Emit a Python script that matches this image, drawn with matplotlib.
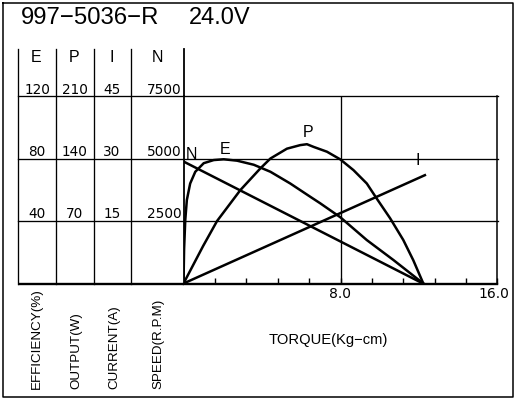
import numpy as np
import matplotlib
matplotlib.use("Agg")
import matplotlib.pyplot as plt
from matplotlib.transforms import blended_transform_factory, ScaledTranslation

# ---------------- data ----------------
title_model = "997\u22125036\u2212R"
title_volt = "24.0V"

# efficiency curve (torque kg-cm, %)
torque_E = [0, 0.03, 0.09, 0.17, 0.34, 0.6, 1.03, 1.54, 2.05, 2.73, 3.58, 4.43,
            5.44, 6.46, 6.97, 7.99, 9.34, 10.7, 12.22]
eff = [0, 22, 40.6, 53.4, 64, 71.5, 77, 79, 79.5, 78.6, 76, 71.5,
       64, 55.5, 51.3, 42.4, 27.8, 15, 0]

# output power curve (torque kg-cm, W)
torque_P = [0, 1.0, 1.71, 2.9, 3.92, 4.43, 5.27, 5.95, 6.29, 6.63, 7.31, 7.99,
            8.66, 9.34, 9.85, 10.53, 11.2, 11.71, 12.22]
power = [0, 42, 70, 104.7, 129, 140, 151, 155, 156, 153, 147.6, 139,
         127, 112, 95, 73, 48.7, 26, 0]

# speed line (torque, rpm)
torque_N = [0, 12.2]
speed = [4880, 0]

# current line (torque, A)
torque_I = [0, 12.3]
current = [0, 26.0]

# scales: one grid unit per column step
E_ticks = [40, 80, 120]
P_ticks = [70, 140, 210]
I_ticks = [15, 30, 45]
N_ticks = [2500, 5000, 7500]
E_step, P_step, I_step, N_step = 40, 70, 15, 2500

x_ticks = [1.6, 3.2, 4.8, 6.4, 8.0, 9.6, 11.2, 12.8, 14.4, 16.0]
x_ticklabels = ["", "", "", "", "8.0", "", "", "", "", "16.0"]

col_headers = ["E", "P", "I", "N"]
axis_titles = ["EFFICIENCY(%)", "OUTPUT(W)", "CURRENT(A)", "SPEED(R.P.M)"]
xlabel = "TORQUE(Kg\u2212cm)"

# ---------------- figure ----------------
W, H = 516, 400
fig = plt.figure(figsize=(W / 100, H / 100), dpi=100)
fig.patch.set_facecolor("white")

deco = fig.add_axes([0, 0, 1, 1], zorder=0)
deco.set_xlim(0, W)
deco.set_ylim(H, 0)
deco.axis("off")

L, R, B, T = 183.5, 497.5, 283.5, 96.0
ax = fig.add_axes([L / W, (H - B) / H, (R - L) / W, (B - T) / H], zorder=1)
ax.patch.set_alpha(0)
ax.set_xlim(0, 16)
ax.set_ylim(0, 3)

sans = "Liberation Sans"
num = "DejaVu Sans"
lw_curve = 1.8
lw_grid = 0.95

# outer frame
deco.plot([2.5, 512.5, 512.5, 2.5, 2.5], [2.5, 2.5, 397, 397, 2.5], color="black",
          lw=1.1, clip_on=False)

# title
deco.text(21, 18, title_model, fontsize=17.2, family=sans, va="center", ha="left")
deco.text(189, 18, title_volt, fontsize=17, family=sans, va="center", ha="left")

trans = blended_transform_factory(deco.transData, ax.transData)

# horizontal grid lines extending across the table
for k in range(1, 4):
    deco.plot([17.5, R], [k, k], transform=trans, color="black", lw=lw_grid,
              clip_on=False)
deco.plot([17.5, L], [0, 0], transform=trans, color="black", lw=1.7,
          clip_on=False, solid_capstyle="butt")

# column separators
for cx in [17.5, 55.5, 93.5, 131.0]:
    deco.plot([cx, cx], [49, B], color="black", lw=lw_grid, clip_on=False)
deco.plot([L, L], [49, T], color="black", lw=1.3, clip_on=False)

# column headers
for hx, h in zip([35.7, 74, 112, 157], col_headers):
    deco.text(hx, 58, h, fontsize=11.5, family=sans, ha="center", va="center")

# table numbers (placed at grid levels)
up = ScaledTranslation(0, 2.5 / 100, fig.dpi_scale_trans)
for k in range(3):
    lvl = k + 1
    deco.text(37, lvl, str(E_ticks[k]), fontsize=9.8, family=num, ha="center",
              va="baseline", transform=trans + up)
    deco.text(74.5, lvl, str(P_ticks[k]), fontsize=9.8, family=num, ha="center",
              va="baseline", transform=trans + up)
    deco.text(111.8, lvl, str(I_ticks[k]), fontsize=9.8, family=num, ha="center",
              va="baseline", transform=trans + up)
    deco.text(182, lvl, str(N_ticks[k]), fontsize=9.8, family=num, ha="right",
              va="baseline", transform=trans + up)

# rotated axis titles
for tx, t in zip([37.3, 76.7, 114.3, 158.3], axis_titles):
    deco.text(tx, 389, t, fontsize=9.6, family=sans, rotation=90,
              ha="center", va="bottom")

deco.text(328, 340, xlabel, fontsize=10.6, family=sans, ha="center", va="center")

# ---------------- main plot ----------------
ax.spines["top"].set_visible(False)
ax.spines["left"].set_linewidth(1.3)
ax.spines["bottom"].set_linewidth(1.7)
ax.spines["right"].set_linewidth(1.1)
ax.axvline(8.0, color="black", lw=lw_grid)

ax.set_xticks(x_ticks)
ax.set_xticklabels(x_ticklabels, family=num, fontsize=10)
ax.tick_params(axis="x", direction="in", length=4.5, width=1.0, pad=2.5)
ax.set_yticks([])
last = ax.get_xticklabels()[-1]
last.set_transform(last.get_transform() +
                   ScaledTranslation(-4 / 100, 0, fig.dpi_scale_trans))

ax.plot(torque_E, np.array(eff) / E_step, color="black", lw=lw_curve,
        solid_joinstyle="round")
ax.plot(torque_P, np.array(power) / P_step, color="black", lw=lw_curve,
        solid_joinstyle="round")
ax.plot(torque_N, np.array(speed) / N_step, color="black", lw=lw_curve)
ax.plot(torque_I, np.array(current) / I_step, color="black", lw=lw_curve)

# curve labels
ax.text(0.41, 2.06, "N", fontsize=11.5, family=sans, ha="center", va="center")
ax.text(2.14, 2.14, "E", fontsize=11.5, family=sans, ha="center", va="center")
ax.text(6.36, 2.41, "P", fontsize=11.5, family=sans, ha="center", va="center")
ax.text(11.95, 1.97, "I", fontsize=11.5, family=sans, ha="center", va="center")

fig.savefig("out.png", dpi=100, facecolor="white")
